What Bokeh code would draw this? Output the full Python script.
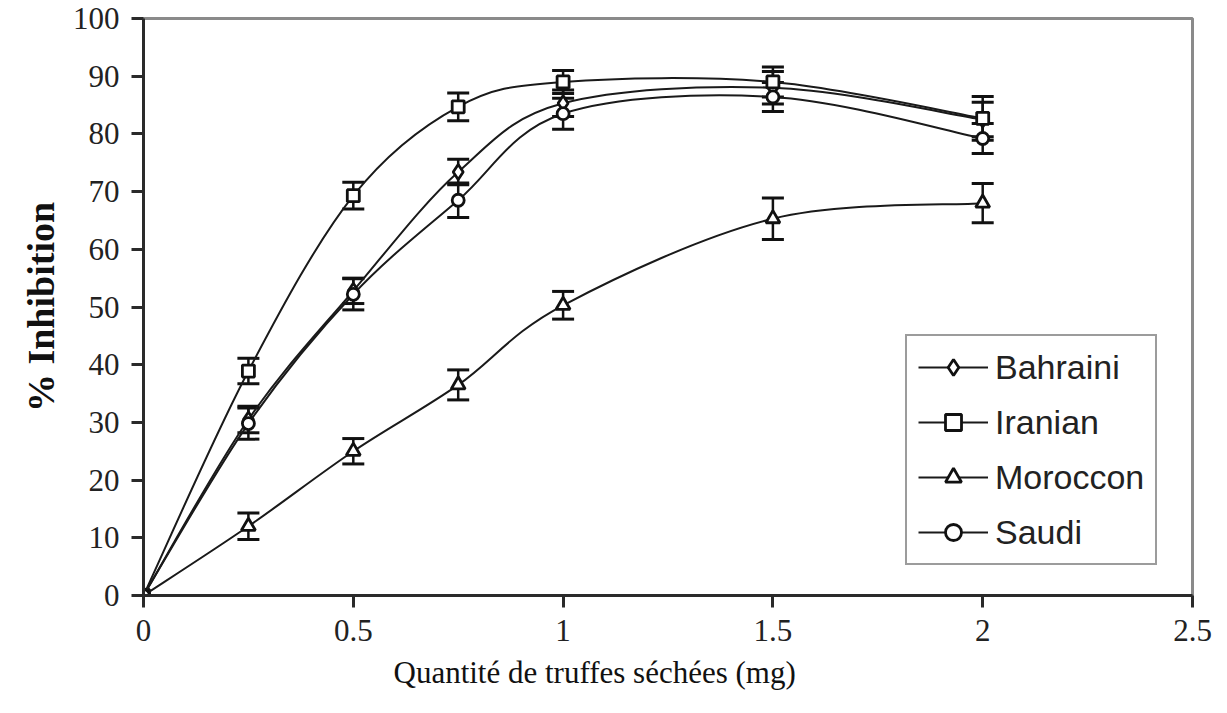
import numpy as np
from bokeh.plotting import figure
from bokeh.models import (Whisker, TeeHead, ColumnDataSource, Legend, LegendItem,
                          Title, FixedTicker, Range1d)
from bokeh.embed import file_html
from bokeh.resources import INLINE

# ---- data ----
dose = [0, 0.25, 0.5, 0.75, 1.0, 1.5, 2.0]
x_ticks = [0, 0.5, 1, 1.5, 2, 2.5]
x_tick_labels = ["0", "0.5", "1", "1.5", "2", "2.5"]
y_ticks = [0, 10, 20, 30, 40, 50, 60, 70, 80, 90, 100]

series_names = ["Bahraini", "Iranian", "Moroccon", "Saudi"]
bahraini = [0, 30.5, 52.8, 73.4, 85.3, 88.0, 82.5]
bahraini_err = [0, 2.3, 2.2, 2.2, 2.3, 2.8, 3.0]
iranian = [0, 38.9, 69.3, 84.7, 89.0, 89.0, 82.7]
iranian_err = [0, 2.2, 2.3, 2.4, 2.0, 2.6, 3.8]
moroccon = [0, 12.0, 25.0, 36.5, 50.3, 65.3, 68.0]
moroccon_err = [0, 2.3, 2.2, 2.6, 2.4, 3.6, 3.4]
saudi = [0, 29.8, 52.2, 68.5, 83.5, 86.4, 79.2]
saudi_err = [0, 2.7, 2.7, 3.0, 2.7, 2.5, 2.6]

values = [bahraini, iranian, moroccon, saudi]
errors = [bahraini_err, iranian_err, moroccon_err, saudi_err]
markers = ["diamond", "square", "triangle", "circle"]
marker_sizes = [15, 12, 14, 12]

W, H = 1227, 713
p = figure(width=W, height=H, output_backend="svg", toolbar_location=None,
           x_range=Range1d(0, 2.5), y_range=Range1d(0, 100),
           min_border_left=143, min_border_right=35, min_border_top=18,
           min_border_bottom=118)
p.grid.visible = False
p.background_fill_color = "white"
p.border_fill_color = "white"
p.outline_line_color = "#8a8a8a"
p.outline_line_width = 3

for ax in (p.xaxis[0], p.yaxis[0]):
    ax.axis_line_color = "#2a2a2a"
    ax.axis_line_width = 3
    ax.major_tick_line_color = "#2a2a2a"
    ax.major_tick_line_width = 3
    ax.major_tick_out = 12
    ax.major_tick_in = 0
    ax.minor_tick_line_color = None
    ax.major_label_text_font = "Liberation Serif"
    ax.major_label_text_font_size = "31px"
    ax.major_label_text_color = "#222222"

p.xaxis.ticker = FixedTicker(ticks=x_ticks)
p.xaxis.major_label_overrides = {t: l for t, l in zip(x_ticks, x_tick_labels)}
p.xaxis.major_label_standoff = 12
p.yaxis.ticker = FixedTicker(ticks=y_ticks)
p.yaxis.major_label_standoff = 12
p.yaxis.axis_label = "% Inhibition"
p.yaxis.axis_label_text_font = "Liberation Serif"
p.yaxis.axis_label_text_font_style = "bold"
p.yaxis.axis_label_text_font_size = "38px"
p.yaxis.axis_label_text_color = "#111111"
p.yaxis.axis_label_standoff = 8


def smooth_segments(xs, ys):
    xs = np.asarray(xs, float)
    ys = np.asarray(ys, float)
    n = len(xs)
    d = dict(x0=[], y0=[], x1=[], y1=[], cx0=[], cy0=[], cx1=[], cy1=[])
    for i in range(n - 1):
        a = i - 1 if i > 0 else i
        b = i + 2 if i + 2 < n else i + 1
        d["x0"].append(xs[i]); d["y0"].append(ys[i])
        d["x1"].append(xs[i + 1]); d["y1"].append(ys[i + 1])
        d["cx0"].append(xs[i] + (xs[i + 1] - xs[a]) / 6)
        d["cy0"].append(ys[i] + (ys[i + 1] - ys[a]) / 6)
        d["cx1"].append(xs[i + 1] - (xs[b] - xs[i]) / 6)
        d["cy1"].append(ys[i + 1] - (ys[b] - ys[i]) / 6)
    return d


items = []
for name, vals, errs, mk, ms in zip(series_names, values, errors, markers, marker_sizes):
    br = p.bezier(source=ColumnDataSource(smooth_segments(dose, vals)),
                  x0="x0", y0="y0", x1="x1", y1="y1", cx0="cx0", cy0="cy0",
                  cx1="cx1", cy1="cy1", line_color="#1a1a1a", line_width=2)
    wx = [x for x, e in zip(dose, errs) if e > 0]
    wu = [v + e for v, e in zip(vals, errs) if e > 0]
    wl = [v - e for v, e in zip(vals, errs) if e > 0]
    wsrc = ColumnDataSource(dict(x=wx, upper=wu, lower=wl))
    p.add_layout(Whisker(source=wsrc, base="x", upper="upper", lower="lower",
                         line_color="#111111", line_width=2.5,
                         upper_head=TeeHead(size=22, line_width=3, line_color="#111111"),
                         lower_head=TeeHead(size=22, line_width=3, line_color="#111111")))
    sr = p.scatter(dose, vals, marker=mk, size=ms, fill_color="white",
                   line_color="#111111", line_width=2.8)
    items.append(LegendItem(label=name, renderers=[br, sr], index=0))

legend = Legend(items=items, location=(762, 30))
legend.label_text_font = "Liberation Sans"
legend.label_text_font_size = "34px"
legend.label_text_color = "#222222"
legend.glyph_width = 70
legend.glyph_height = 40
legend.label_height = 40
legend.label_standoff = 7
legend.spacing = 15
legend.padding = 11
legend.margin = 0
legend.border_line_color = "#3a3a3a"
legend.border_line_width = 2
legend.background_fill_color = "white"
legend.background_fill_alpha = 1
p.add_layout(legend, "center")

xtitle = Title(text="Quantité de truffes séchées (mg)", align="left", offset=250,
               text_font="Liberation Serif", text_font_size="31px",
               text_font_style="normal", text_color="#111111", standoff=18)
p.add_layout(xtitle, "below")

open("out.html", "w").write(file_html(p, INLINE))
